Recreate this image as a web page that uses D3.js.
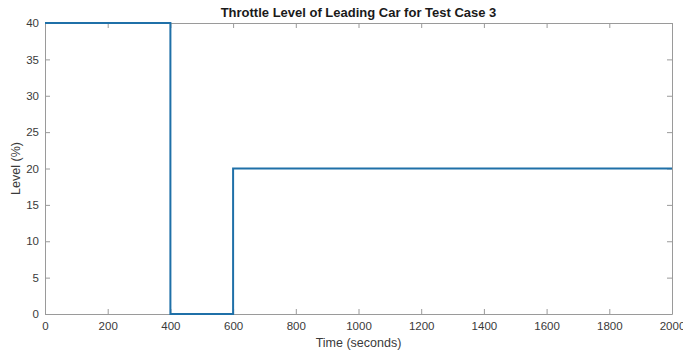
<!DOCTYPE html>
<html>
<head>
<meta charset="utf-8">
<script src="https://cdn.jsdelivr.net/npm/d3@7"></script>
<style>
  html, body { margin: 0; padding: 0; background: #fff; }
  svg { display: block; font-family: "Liberation Sans", Arial, Helvetica, sans-serif; }
</style>
</head>
<body>
<svg id="chart" width="683" height="354"></svg>
<script>
// Throttle command profile (time in seconds, level in percent)
const times  = [0, 400, 400, 600, 600, 2000];
const levels = [40, 40, 0, 0, 20, 20];

const xTicks = [0, 200, 400, 600, 800, 1000, 1200, 1400, 1600, 1800, 2000];
const yTicks = [0, 5, 10, 15, 20, 25, 30, 35, 40];

const titleText = "Throttle Level of Leading Car for Test Case 3";
const xLabel = "Time (seconds)";
const yLabel = "Level (%)";

const W = 683, H = 354;
const m = { left: 45, right: 11, top: 23, bottom: 40 };
const iw = W - m.left - m.right, ih = H - m.top - m.bottom;

const svg = d3.select("#chart");
const g = svg.append("g").attr("transform", `translate(${m.left},${m.top})`);

const x = d3.scaleLinear().domain([0, 2000]).range([0, iw]);
const y = d3.scaleLinear().domain([0, 40]).range([ih, 0]);

const axisColor = "#9a9a9a";
const textColor = "#3a3a3a";
const tickLen = 5;

function styleAxis(sel, showText) {
  sel.select(".domain").attr("stroke", axisColor).attr("stroke-width", 1);
  sel.selectAll(".tick line").attr("stroke", axisColor);
  sel.selectAll(".tick text")
    .attr("fill", textColor)
    .style("font-size", "11.5px")
    .style("display", showText ? null : "none");
}

// bottom and left axes with inward ticks
g.append("g").attr("transform", `translate(0,${ih})`)
  .call(d3.axisBottom(x).tickValues(xTicks).tickSizeInner(-tickLen).tickSizeOuter(0).tickPadding(8).tickFormat(d3.format("d")))
  .call(s => styleAxis(s, true));
g.append("g")
  .call(d3.axisLeft(y).tickValues(yTicks).tickSizeInner(-tickLen).tickSizeOuter(0).tickPadding(6).tickFormat(d3.format("d")))
  .call(s => styleAxis(s, true));
// top and right box edges with inward ticks
g.append("g")
  .call(d3.axisTop(x).tickValues(xTicks).tickSizeInner(-tickLen).tickSizeOuter(0))
  .call(s => styleAxis(s, false));
g.append("g").attr("transform", `translate(${iw},0)`)
  .call(d3.axisRight(y).tickValues(yTicks).tickSizeInner(-tickLen).tickSizeOuter(0))
  .call(s => styleAxis(s, false));

// throttle line
const line = d3.line().x((d, i) => x(times[i])).y((d, i) => y(levels[i]));
g.append("path")
  .datum(levels)
  .attr("d", line)
  .attr("fill", "none")
  .attr("stroke", "#1f70a8")
  .attr("stroke-width", 2);

// titles
svg.append("text")
  .attr("x", m.left + iw / 2).attr("y", 17)
  .attr("text-anchor", "middle")
  .attr("fill", "#1a1a1a")
  .style("font-size", "13px").style("font-weight", "bold")
  .text(titleText);

svg.append("text")
  .attr("x", m.left + iw / 2).attr("y", 347)
  .attr("text-anchor", "middle")
  .attr("fill", textColor)
  .style("font-size", "12.5px")
  .text(xLabel);

svg.append("text")
  .attr("transform", `translate(20,${m.top + ih / 2}) rotate(-90)`)
  .attr("text-anchor", "middle")
  .attr("fill", textColor)
  .style("font-size", "12.5px")
  .text(yLabel);
</script>
</body>
</html>
